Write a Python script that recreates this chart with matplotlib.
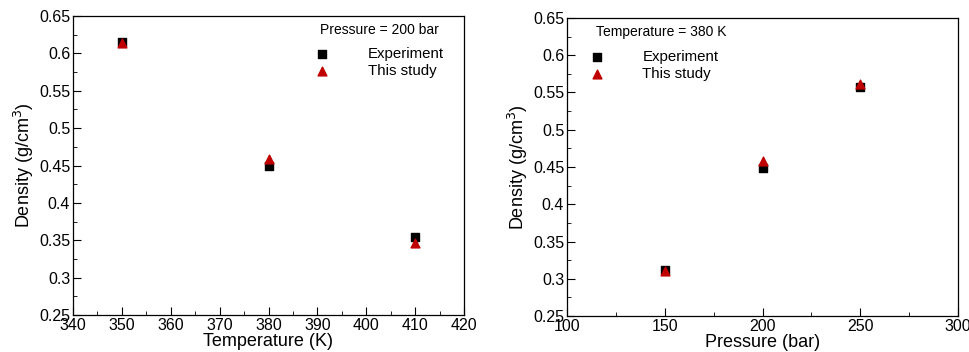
import matplotlib.pyplot as plt
from matplotlib.ticker import MultipleLocator

plt.rcParams['font.family'] = ['Liberation Sans', 'DejaVu Sans']

# left panel: density vs temperature at 200 bar
temp = [350, 380, 410]
temp_exp = [0.615, 0.450, 0.355]
temp_study = [0.614, 0.459, 0.346]

# right panel: density vs pressure at 380 K
press = [150, 200, 250]
press_exp = [0.312, 0.449, 0.557]
press_study = [0.310, 0.458, 0.561]

fig = plt.figure(figsize=(9.7, 3.52), dpi=100)
ax1 = fig.add_axes([73 / 970, 1 - 315 / 352, (464 - 73) / 970, (315 - 16) / 352])
ax2 = fig.add_axes([567 / 970, 1 - 316 / 352, (958 - 567) / 970, (316 - 18) / 352])


def style(ax, xlim, xmaj, xmin, xlabel):
    ax.set_xlim(*xlim)
    ax.set_ylim(0.25, 0.65)
    ax.xaxis.set_major_locator(MultipleLocator(xmaj))
    ax.xaxis.set_minor_locator(MultipleLocator(xmin))
    ax.yaxis.set_major_locator(MultipleLocator(0.05))
    ax.yaxis.set_minor_locator(MultipleLocator(0.025))
    ax.tick_params(which='both', direction='in', top=False, right=False, labelsize=11.5, pad=2)
    ax.tick_params(which='major', length=6)
    ax.tick_params(which='minor', length=3)
    ax.yaxis.set_major_formatter(plt.FuncFormatter(lambda v, p: f"{v:.2f}".rstrip('0') if v else "0"))
    ax.set_xlabel(xlabel, fontsize=13, labelpad=0)
    ax.set_ylabel("Density (g/cm$^3$)", fontsize=13, labelpad=2)
    for s in ax.spines.values():
        s.set_linewidth(0.9)


ax1.scatter(temp, temp_exp, marker='s', color='black', s=40, label='Experiment', zorder=2)
ax1.scatter(temp, temp_study, marker='^', color='#c00000', s=40, label='This study', zorder=3)
style(ax1, (340, 420), 10, 5, "Temperature (K)")
ax1.legend(loc='upper left', bbox_to_anchor=(0.583, 0.916), frameon=False, fontsize=10.8,
           handletextpad=2.05, labelspacing=0.2, borderaxespad=0)
ax1.text(0.785, 0.953, "Pressure = 200 bar", transform=ax1.transAxes, ha='center', va='center', fontsize=10)

ax2.scatter(press, press_exp, marker='s', color='black', s=40, label='Experiment', zorder=2)
ax2.scatter(press, press_study, marker='^', color='#c00000', s=40, label='This study', zorder=3)
style(ax2, (100, 300), 50, 25, "Pressure (bar)")
ax2.legend(loc='upper left', bbox_to_anchor=(0.022, 0.912), frameon=False, fontsize=10.8,
           handletextpad=2.05, labelspacing=0.2, borderaxespad=0)
ax2.text(0.074, 0.953, "Temperature = 380 K", transform=ax2.transAxes, ha='left', va='center', fontsize=10)

fig.savefig("out.png", dpi=100)
